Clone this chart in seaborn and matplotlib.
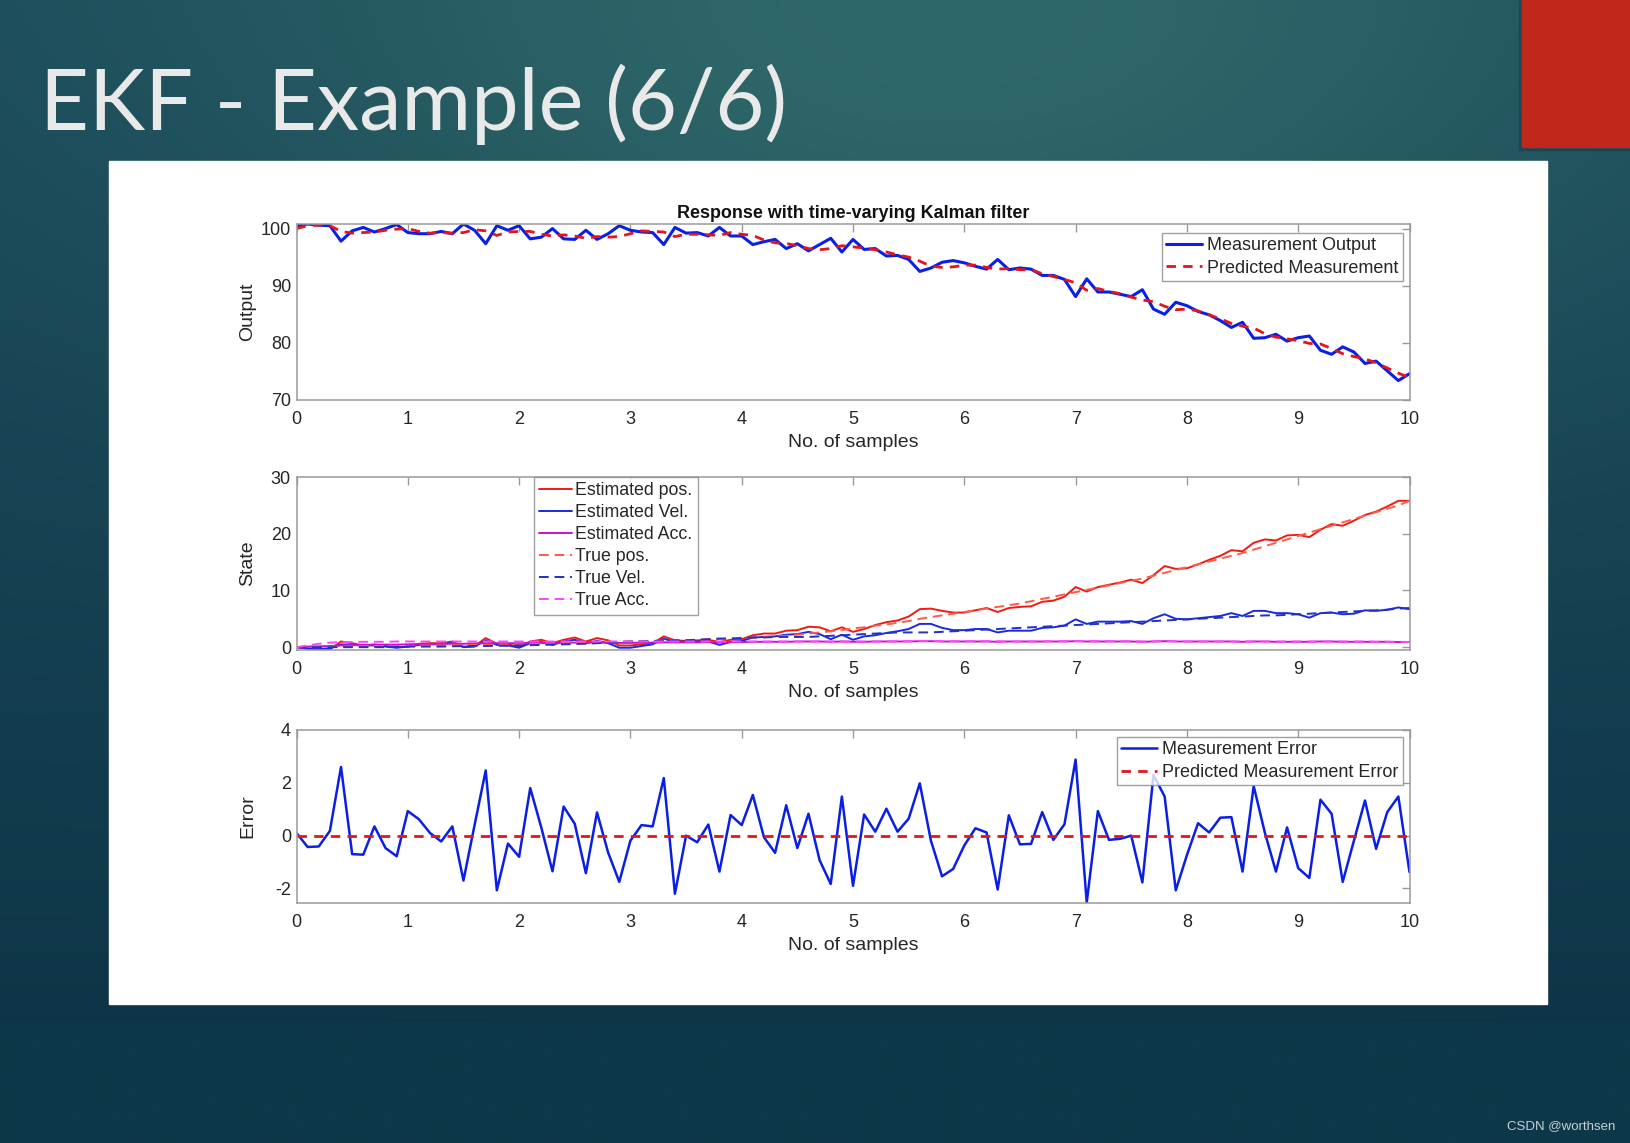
import numpy as np
import matplotlib
matplotlib.use("Agg")
import matplotlib.pyplot as plt
from matplotlib.patches import Rectangle
import seaborn as sns

# ---------------- data ----------------
t = [round(i * 0.1, 1) for i in range(101)]

meas_output = [100.5, 100.8, 100.6, 100.5, 97.8, 99.6, 100.2, 99.4, 100.0, 100.7,
               99.3, 99.1, 99.1, 99.5, 99.1, 100.8, 99.7, 97.35, 100.5, 99.7,
               100.5, 98.2, 98.5, 100.0, 98.2, 98.1, 99.7, 98.1, 99.1, 100.5,
               99.7, 99.4, 99.3, 97.2, 100.2, 99.2, 99.3, 98.7, 100.2, 98.7,
               98.7, 97.2, 97.7, 98.1, 96.5, 97.35, 96.1, 97.2, 98.3, 95.9,
               98.1, 96.35, 96.5, 95.2, 95.3, 94.6, 92.5, 93.1, 94.1, 94.4,
               94.0, 93.4, 92.9, 94.6, 92.8, 93.1, 92.9, 91.8, 91.8, 91.1,
               88.1, 91.2, 88.9, 88.9, 88.5, 88.1, 89.3, 85.9, 85.0, 87.1,
               86.5, 85.5, 84.9, 83.9, 82.7, 83.6, 80.8, 80.9, 81.5, 80.3,
               80.9, 81.2, 78.7, 78.0, 79.3, 78.4, 76.4, 76.8, 75.1, 73.4,
               74.6]

pred_meas = [100.0, 100.5, 100.6, 100.5, 99.5, 99.2, 99.3, 99.4, 99.7, 99.9,
             100.0, 99.5, 99.2, 99.3, 99.2, 99.3, 99.8, 99.6, 98.8, 99.4,
             99.5, 99.5, 99.0, 98.7, 98.9, 98.7, 98.3, 98.6, 98.5, 98.6,
             99.1, 99.6, 99.5, 99.4, 98.6, 99.0, 99.0, 98.9, 98.8, 99.3,
             99.0, 98.8, 98.0, 97.5, 97.4, 97.0, 96.5, 96.3, 96.5, 97.0,
             96.8, 96.6, 96.3, 95.9, 95.4, 95.0, 94.3, 93.4, 93.2, 93.3,
             93.6, 93.6, 93.2, 92.9, 93.0, 92.8, 92.8, 92.1, 91.6, 91.1,
             90.5, 89.2, 89.5, 89.0, 88.6, 88.0, 87.5, 87.2, 86.4, 85.8,
             85.9, 85.6, 84.9, 84.2, 83.4, 82.9, 82.6, 81.6, 81.0, 80.7,
             80.4, 79.9, 79.8, 79.0, 78.1, 77.6, 77.2, 76.5, 75.6, 74.7,
             73.9]

est_pos = [0.0, -0.3, -0.4, -0.4, 1.0, 0.7, 0.3, 0.5, 0.2, 0.0,
           0.1, 0.6, 0.7, 0.7, 1.0, 0.1, 0.2, 1.6, 0.6, 0.5,
           0.1, 1.0, 1.3, 0.7, 1.3, 1.7, 1.0, 1.6, 1.2, 0.3,
           0.3, 0.5, 0.7, 1.9, 1.2, 1.1, 1.2, 1.3, 0.9, 1.3,
           1.4, 2.1, 2.4, 2.4, 2.9, 3.0, 3.6, 3.5, 2.8, 3.5,
           2.7, 3.2, 3.9, 4.4, 4.7, 5.4, 6.7, 6.8, 6.4, 6.1,
           6.1, 6.5, 6.9, 6.2, 6.9, 7.1, 7.2, 8.0, 8.2, 8.9,
           10.6, 9.8, 10.6, 11.0, 11.4, 11.9, 11.3, 12.7, 14.3, 13.8,
           13.9, 14.6, 15.4, 16.1, 17.1, 16.9, 18.4, 19.0, 18.8, 19.7,
           19.8, 19.4, 20.7, 21.7, 21.4, 22.3, 23.3, 23.9, 24.8, 25.8,
           25.8]

est_vel = [0.0, -0.2, -0.3, -0.2, 0.5, 0.4, 0.3, 0.3, 0.1, -0.1,
           0.1, 0.4, 0.5, 0.5, 0.8, 0.0, 0.1, 1.2, 0.4, 0.3,
           -0.1, 0.7, 0.9, 0.4, 1.0, 1.3, 0.7, 1.1, 0.7, -0.1,
           -0.1, 0.2, 0.5, 1.5, 0.9, 1.0, 1.0, 1.0, 0.4, 0.9,
           1.1, 1.7, 1.8, 1.9, 2.2, 2.3, 2.7, 2.3, 1.4, 2.2,
           1.3, 1.9, 2.1, 2.5, 2.8, 3.2, 4.1, 4.1, 3.4, 3.0,
           3.0, 3.2, 3.2, 2.6, 2.9, 2.9, 2.9, 3.4, 3.5, 3.8,
           4.9, 4.1, 4.5, 4.5, 4.5, 4.6, 4.1, 5.1, 5.8, 5.0,
           4.9, 5.1, 5.3, 5.5, 6.0, 5.5, 6.4, 6.4, 6.0, 6.0,
           5.8, 5.2, 6.0, 6.1, 5.8, 5.9, 6.5, 6.4, 6.6, 7.0,
           6.7]

est_acc = [0.0, 0.1, 0.15, 0.2, 0.3, 0.35, 0.4, 0.4, 0.45, 0.45,
           0.5, 0.55, 0.55, 0.6, 0.6, 0.6, 0.65, 0.7, 0.7, 0.7,
           0.7, 0.75, 0.75, 0.75, 0.8, 0.8, 0.8, 0.8, 0.8, 0.75,
           0.75, 0.8, 0.8, 0.85, 0.85, 0.85, 0.85, 0.9, 0.85, 0.9,
           0.9, 0.95, 0.95, 0.95, 0.95, 1.0, 1.0, 1.0, 0.95, 1.0,
           0.95, 0.95, 1.0, 1.0, 1.0, 1.0, 1.05, 1.05, 1.0, 1.0,
           1.0, 1.0, 1.0, 0.95, 1.0, 1.0, 1.0, 1.0, 1.0, 1.0,
           1.05, 1.0, 1.0, 1.0, 1.0, 1.0, 0.95, 1.0, 1.05, 1.0,
           1.0, 1.0, 1.0, 1.0, 1.0, 0.95, 1.0, 1.0, 0.95, 0.95,
           0.95, 0.95, 1.0, 1.0, 0.95, 0.95, 0.95, 0.95, 0.95, 0.9,
           0.9]

true_pos = [0.0, 0.0, 0.0, 0.05, 0.1, 0.15, 0.2, 0.2, 0.2, 0.2,
            0.2, 0.25, 0.3, 0.3, 0.35, 0.35, 0.4, 0.4, 0.45, 0.45,
            0.5, 0.55, 0.6, 0.65, 0.7, 0.75, 0.8, 0.85, 0.9, 0.95,
            1.0, 1.05, 1.1, 1.15, 1.2, 1.25, 1.3, 1.4, 1.5, 1.55,
            1.6, 1.7, 1.8, 1.9, 2.0, 2.2, 2.4, 2.6, 2.8, 3.0,
            3.3, 3.5, 3.8, 4.0, 4.3, 4.6, 5.0, 5.3, 5.6, 5.9,
            6.2, 6.5, 6.8, 7.1, 7.4, 7.7, 8.1, 8.5, 8.9, 9.3,
            9.7, 10.1, 10.5, 10.9, 11.3, 11.7, 12.1, 12.6, 13.1, 13.6,
            14.1, 14.6, 15.1, 15.6, 16.1, 16.6, 17.2, 17.8, 18.4, 19.0,
            19.6, 20.2, 20.8, 21.4, 22.0, 22.6, 23.2, 23.8, 24.4, 25.0,
            25.8]

true_vel = [0.0, 0.0, 0.0, 0.0, 0.0, 0.0, 0.0, 0.0, 0.0, 0.05,
            0.1, 0.1, 0.1, 0.1, 0.15, 0.2, 0.2, 0.2, 0.25, 0.25,
            0.3, 0.35, 0.4, 0.45, 0.5, 0.55, 0.6, 0.7, 0.8, 0.9,
            1.0, 1.0, 1.1, 1.1, 1.2, 1.2, 1.3, 1.4, 1.5, 1.5,
            1.6, 1.7, 1.7, 1.8, 1.8, 1.8, 1.8, 1.9, 2.0, 2.1,
            2.2, 2.3, 2.4, 2.5, 2.6, 2.6, 2.6, 2.6, 2.7, 2.8,
            2.9, 3.0, 3.1, 3.2, 3.3, 3.4, 3.5, 3.6, 3.7, 3.8,
            3.9, 4.0, 4.1, 4.2, 4.3, 4.4, 4.5, 4.6, 4.7, 4.8,
            4.9, 5.0, 5.1, 5.2, 5.3, 5.4, 5.5, 5.6, 5.6, 5.7,
            5.8, 5.9, 6.0, 6.1, 6.2, 6.3, 6.4, 6.5, 6.6, 6.8,
            6.9]

true_acc = [0.0, 0.3, 0.6, 0.8, 0.9, 0.9, 0.95, 0.95, 0.95, 1.0,
            1.0, 1.0, 1.0, 1.0, 1.0, 1.0, 1.0, 1.0, 1.0, 1.0,
            1.0, 1.0, 1.0, 1.0, 1.0, 1.0, 1.0, 1.0, 1.0, 1.0,
            1.0, 1.0, 1.0, 1.0, 1.0, 1.0, 1.0, 1.0, 1.0, 1.0,
            1.0, 1.0, 1.0, 1.0, 1.0, 1.0, 1.0, 1.0, 1.0, 1.0,
            1.0, 1.0, 1.0, 1.0, 1.05, 1.05, 1.1, 1.1, 1.05, 1.05,
            1.05, 1.05, 1.05, 1.05, 1.0, 1.0, 1.0, 1.0, 1.05, 1.05,
            1.05, 1.05, 1.05, 1.05, 1.05, 1.05, 1.0, 1.0, 1.05, 1.05,
            1.0, 1.0, 1.0, 1.0, 1.0, 1.0, 1.0, 1.0, 1.0, 1.0,
            1.0, 1.0, 1.0, 1.0, 1.0, 1.0, 1.0, 0.95, 0.95, 0.95,
            0.9]

meas_error = [0.1, -0.43, -0.41, 0.18, 2.6, -0.7, -0.72, 0.35, -0.47, -0.78,
              0.93, 0.62, 0.1, -0.22, 0.35, -1.7, 0.4, 2.47, -2.07, -0.3,
              -0.8, 1.8, 0.3, -1.35, 1.1, 0.45, -1.42, 0.88, -0.64, -1.75,
              -0.19, 0.4, 0.35, 2.18, -2.2, 0.0, -0.25, 0.42, -1.36, 0.78,
              0.4, 1.54, -0.06, -0.65, 1.15, -0.47, 0.83, -0.93, -1.83, 1.48,
              -1.9, 0.8, 0.15, 1.02, 0.15, 0.64, 1.98, -0.19, -1.54, -1.26,
              -0.37, 0.28, 0.12, -2.04, 0.77, -0.33, -0.31, 0.89, -0.16, 0.43,
              2.88, -2.53, 0.93, -0.16, -0.12, 0.0, -1.77, 2.3, 1.48, -2.07,
              -0.74, 0.47, 0.12, 0.68, 0.7, -1.36, 1.88, 0.12, -1.36, 0.31,
              -1.23, -1.6, 1.36, 0.83, -1.75, -0.2, 1.33, -0.5, 0.89, 1.48,
              -1.38]

pred_error = [0.0] * 101

x_ticks = [0, 1, 2, 3, 4, 5, 6, 7, 8, 9, 10]
y_ticks_out = [70, 80, 90, 100]
y_ticks_state = [0, 10, 20, 30]
y_ticks_err = [-2, 0, 2, 4]

slide_title = "EKF - Example (6/6)"
plot_title = "Response with time-varying Kalman filter"
watermark = "CSDN @worthsen"

# ---------------- style ----------------
sns.set_style("white")
plt.rcParams["font.family"] = ["Liberation Sans", "DejaVu Sans"]
plt.rcParams["axes.unicode_minus"] = False

W, H = 1631, 1143
fig = plt.figure(figsize=(W / 100, H / 100), dpi=100)

# slide background gradient
ny, nx = 230, 330
yy, xx = np.mgrid[0:1:ny * 1j, 0:1:nx * 1j]  # yy=0 top
dark = np.array([13, 52, 70]) / 255.0
mid = np.array([27, 74, 90]) / 255.0
light = np.array([47, 104, 106]) / 255.0
d_light = np.sqrt(((xx - 0.58) / 0.45) ** 2 + ((yy - 0.0) / 0.35) ** 2)
w_light = np.exp(-d_light ** 2)
w_mid = np.clip(1.0 - yy * 1.1, 0, 1) ** 0.8
img = dark[None, None, :] * (1 - w_mid[..., None]) + mid[None, None, :] * w_mid[..., None]
img = img * (1 - w_light[..., None]) + light[None, None, :] * w_light[..., None]
bot = yy > (985 / 1099)
img[bot] = np.array([13, 56, 73]) / 255.0
ax_bg = fig.add_axes([0, 0, 1, 1], zorder=-10)
ax_bg.imshow(img, aspect="auto", extent=[0, 1, 0, 1], interpolation="bilinear")
ax_bg.set_axis_off()

# red block top-right (with subtle shadow)
fig.add_artist(Rectangle((1519 / W, 1 - 150 / H), 112 / W, 150 / H,
                         transform=fig.transFigure, color="#0a2a36", alpha=0.25, zorder=-8))
fig.add_artist(Rectangle((1522 / W, 1 - 147 / H), 109 / W, 147 / H,
                         transform=fig.transFigure, color="#c1271b", zorder=-7))

# white panel
fig.add_artist(Rectangle((109 / W, 1 - 1004 / H), (1547 - 109) / W, (1004 - 161) / H,
                         transform=fig.transFigure, color="white", zorder=-6))

fig.text(40 / W, 1 - 130 / H, slide_title, fontsize=61, color="#e9e9e9",
         family=["Lato", "DejaVu Sans"], fontweight="normal", va="baseline", ha="left")
fig.text(1615 / W, 1 - 1126 / H, watermark, fontsize=9.5, color="#c8d0d4",
         ha="right", va="center")

# axes layout
left = 296.5 / W
width = (1409.5 - 296.5) / W
def make_ax(top_px, bot_px):
    return fig.add_axes([left, 1 - bot_px / H, width, (bot_px - top_px) / H])

ax1 = make_ax(224, 400)
ax2 = make_ax(477, 650)
ax3 = make_ax(730, 903)

spine_col = "#9a9a9a"
txt_col = "#262626"
for ax in (ax1, ax2, ax3):
    ax.set_facecolor("white")
    for s in ax.spines.values():
        s.set_color(spine_col)
        s.set_linewidth(1.1)
        s.set_visible(True)
    ax.tick_params(direction="in", length=6, width=1, colors=spine_col,
                   top=True, right=True, labelcolor=txt_col, labelsize=13)
    ax.tick_params(axis="x", pad=8)
    ax.tick_params(axis="y", pad=4)
    ax.set_xlim(0, 10)
    ax.set_xticks(x_ticks)
    ax.set_xlabel("No. of samples", fontsize=14, color=txt_col, labelpad=4)
    ax.grid(False)

blue = "#0a1fe6"
red = "#e5141b"

# --- top plot ---
sns.lineplot(x=t, y=meas_output, ax=ax1, color=blue, linewidth=2.2,
             label="Measurement Output")
sns.lineplot(x=t, y=pred_meas, ax=ax1, color=red, linewidth=2.0,
             linestyle=(0, (3.4, 2.6)), label="Predicted Measurement")
ax1.set_ylim(70, 100.8)
ax1.set_yticks(y_ticks_out)
ax1.set_ylabel("Output", fontsize=14, color=txt_col)
ax1.set_title(plot_title, fontsize=12.9, fontweight="bold", color="#111111", pad=4)
leg1 = ax1.legend(loc="upper right", bbox_to_anchor=(0.994, 0.95), fontsize=13,
                  frameon=True, fancybox=False, handlelength=2.0, handletextpad=0.25,
                  labelspacing=0.3, borderpad=0.25, borderaxespad=0)

# --- middle plot ---
sns.lineplot(x=t, y=est_pos, ax=ax2, color="#f21a10", linewidth=1.4, label="Estimated pos.")
sns.lineplot(x=t, y=est_vel, ax=ax2, color="#1a2ae0", linewidth=1.4, label="Estimated Vel.")
sns.lineplot(x=t, y=est_acc, ax=ax2, color="#cc11cc", linewidth=1.4, label="Estimated Acc.")
sns.lineplot(x=t, y=true_pos, ax=ax2, color="#ff5a4a", linewidth=1.4,
             linestyle=(0, (5, 3)), label="True pos.")
sns.lineplot(x=t, y=true_vel, ax=ax2, color="#2030c8", linewidth=1.4,
             linestyle=(0, (5, 3)), label="True Vel.")
sns.lineplot(x=t, y=true_acc, ax=ax2, color="#ff44ff", linewidth=1.4,
             linestyle=(0, (5, 3)), label="True Acc.")
ax2.set_ylim(-0.5, 30)
ax2.set_yticks(y_ticks_state)
ax2.set_ylabel("State", fontsize=14, color=txt_col)
leg2 = ax2.legend(loc="upper left", bbox_to_anchor=(0.213, 1.0), fontsize=12.8,
                  frameon=True, fancybox=False, handlelength=1.85, handletextpad=0.2,
                  labelspacing=0.28, borderpad=0.3, borderaxespad=0)

# --- bottom plot ---
sns.lineplot(x=t, y=meas_error, ax=ax3, color=blue, linewidth=1.8,
             label="Measurement Error")
sns.lineplot(x=t, y=pred_error, ax=ax3, color=red, linewidth=2.0,
             linestyle=(0, (3.4, 2.6)), label="Predicted Measurement Error")
ax3.set_ylim(-2.55, 4)
ax3.set_yticks(y_ticks_err)
ax3.set_ylabel("Error", fontsize=14, color=txt_col)
leg3 = ax3.legend(loc="upper right", bbox_to_anchor=(0.994, 0.96), fontsize=13,
                  frameon=True, fancybox=False, handlelength=2.0, handletextpad=0.25,
                  labelspacing=0.3, borderpad=0.25, borderaxespad=0)

for ax in (ax1, ax2, ax3):
    ax.yaxis.set_label_coords(-0.036, 0.5)
    leg = ax.get_legend()
    leg.get_frame().set_edgecolor("#8a8a8a")
    leg.get_frame().set_linewidth(1.0)
    for txt in leg.get_texts():
        txt.set_color(txt_col)

fig.savefig("out.png", dpi=100)
